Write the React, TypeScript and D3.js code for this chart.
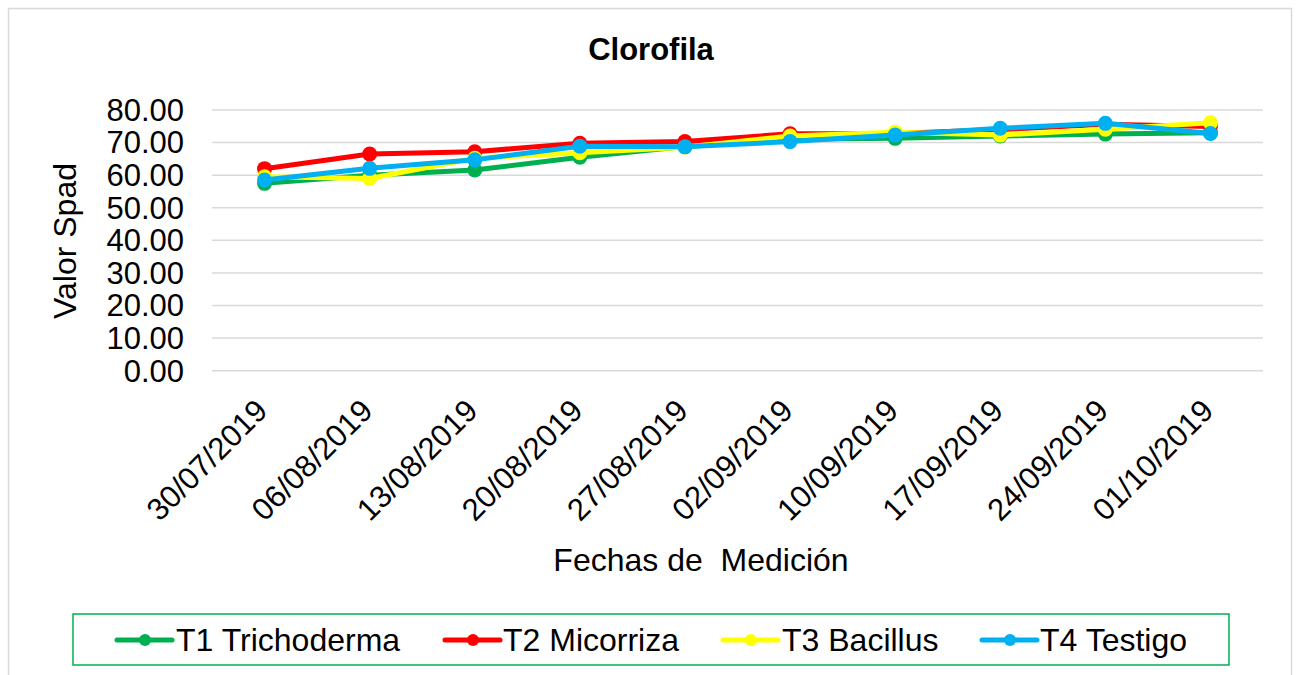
import React from "react";
import * as d3 from "d3";

const categories = [
  "30/07/2019", "06/08/2019", "13/08/2019", "20/08/2019", "27/08/2019",
  "02/09/2019", "10/09/2019", "17/09/2019", "24/09/2019", "01/10/2019",
];
const t1Trichoderma = [57.5, 60.0, 61.6, 65.5, 68.8, 71.0, 71.3, 72.0, 72.6, 73.0];
const t2Micorriza = [62.0, 66.5, 67.2, 69.8, 70.3, 72.7, 72.8, 74.0, 75.6, 74.9];
const t3Bacillus = [59.5, 59.0, 65.2, 66.9, 68.6, 72.0, 73.2, 72.3, 74.1, 76.1];
const t4Testigo = [58.5, 62.1, 64.7, 68.9, 68.7, 70.3, 72.3, 74.4, 75.9, 72.8];
const yTicks = [0, 10, 20, 30, 40, 50, 60, 70, 80];

const seriesNames = ["T1 Trichoderma", "T2 Micorriza", "T3 Bacillus", "T4 Testigo"];
const seriesColors = ["#00b050", "#ff0000", "#ffff00", "#00b0f0"];
const seriesValues = [t1Trichoderma, t2Micorriza, t3Bacillus, t4Testigo];

const W = 1298;
const H = 675;
const plot = { left: 212, right: 1263, top: 110, bottom: 370.7 };
const FONT = "Arial, 'Liberation Sans', sans-serif";

export default function App() {
  const x = d3
    .scaleBand<string>()
    .domain(categories)
    .range([plot.left, plot.right]);
  const y = d3.scaleLinear().domain([0, 80]).range([plot.bottom, plot.top]);
  const cx = (c: string) => (x(c) as number) + x.bandwidth() / 2;

  const line = d3
    .line<number>()
    .x((_, i) => cx(categories[i]))
    .y((v) => y(v));

  const legendItems = [
    { lineX: 117, textX: 176 },
    { lineX: 445, textX: 503 },
    { lineX: 723, textX: 782 },
    { lineX: 982, textX: 1040 },
  ];

  return (
    <svg
      width={W}
      height={H}
      style={{ position: "absolute", left: 0, top: 0, background: "#fff" }}
      fontFamily={FONT}
    >
      <rect x={0} y={0} width={W} height={H} fill="#fff" />
      <rect x={8.5} y={8.5} width={1283} height={700} fill="#fff" stroke="#d9d9d9" strokeWidth={1.5} />

      <text x={651} y={59.5} textAnchor="middle" fontSize={31} fontWeight="bold" fill="#000">
        Clorofila
      </text>

      {yTicks.map((t) => (
        <g key={t}>
          <line x1={plot.left} x2={plot.right} y1={y(t)} y2={y(t)} stroke="#d9d9d9" strokeWidth={1.5} />
          <text x={184} y={y(t)} dy="0.35em" textAnchor="end" fontSize={31} fill="#000">
            {t.toFixed(2)}
          </text>
        </g>
      ))}

      <text
        transform={`translate(76, 241) rotate(-90)`}
        textAnchor="middle"
        fontSize={32}
        fill="#000"
      >
        Valor Spad
      </text>

      {categories.map((c) => (
        <text
          key={c}
          transform={`translate(${cx(c) - 3}, 405) rotate(-45)`}
          textAnchor="end"
          dy="0.35em"
          fontSize={31}
          fill="#000"
        >
          {c}
        </text>
      ))}

      <text x={701} y={571} textAnchor="middle" fontSize={32} fill="#000" style={{ whiteSpace: "pre" }}>
        {"Fechas de  Medición"}
      </text>

      {seriesValues.map((vals, si) => (
        <g key={si}>
          <path d={line(vals) || ""} fill="none" stroke={seriesColors[si]} strokeWidth={5} strokeLinejoin="round" />
          {vals.map((v, i) => (
            <circle key={i} cx={cx(categories[i])} cy={y(v)} r={7.5} fill={seriesColors[si]} />
          ))}
        </g>
      ))}

      <rect x={73} y={614} width={1156} height={51} fill="none" stroke="#00b050" strokeWidth={1.5} />
      {seriesNames.map((n, i) => (
        <g key={n}>
          <line
            x1={legendItems[i].lineX}
            x2={legendItems[i].lineX + 55}
            y1={640}
            y2={640}
            stroke={seriesColors[i]}
            strokeWidth={5}
            strokeLinecap="round"
          />
          <circle cx={legendItems[i].lineX + 28} cy={640} r={6} fill={seriesColors[i]} />
          <text x={legendItems[i].textX} y={651} fontSize={32} fill="#000">
            {n}
          </text>
        </g>
      ))}
    </svg>
  );
}
